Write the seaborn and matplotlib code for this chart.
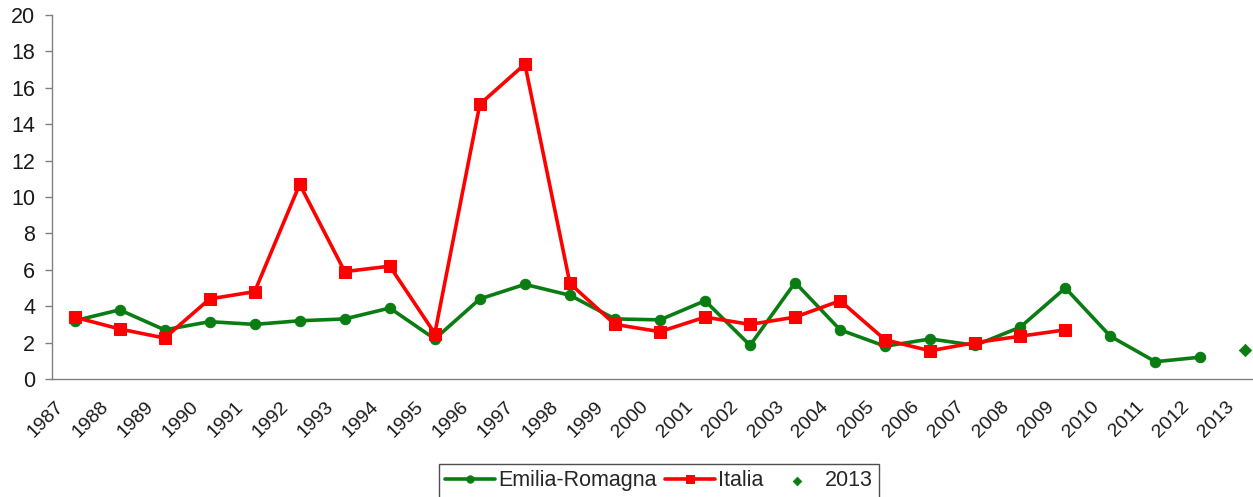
import numpy as np
import pandas as pd
import seaborn as sns
import matplotlib.pyplot as plt
import matplotlib.transforms as mtransforms
from matplotlib.ticker import FixedLocator

years = list(range(1987, 2014))

emilia_years = list(range(1987, 2013))
emilia_values = [3.2, 3.8, 2.7, 3.15, 3.0, 3.2, 3.3, 3.9, 2.2, 4.4, 5.2, 4.6, 3.3,
                 3.25, 4.3, 1.85, 5.3, 2.7, 1.8, 2.2, 1.85, 2.85, 5.0, 2.35, 0.95, 1.2]

italia_years = list(range(1987, 2010))
italia_values = [3.4, 2.75, 2.25, 4.4, 4.8, 10.7, 5.9, 6.2, 2.5, 15.1, 17.3, 5.25,
                 3.0, 2.6, 3.4, 3.0, 3.4, 4.3, 2.15, 1.55, 2.0, 2.35, 2.7]

point_2013_year = [2013]
point_2013_value = [1.6]

GREEN = "#0a7d12"
RED = "#ff0000"

sns.set_theme(style="white")
plt.rcParams["font.family"] = ["Liberation Sans", "DejaVu Sans"]

emilia = pd.DataFrame({"anno": emilia_years, "valore": emilia_values})
italia = pd.DataFrame({"anno": italia_years, "valore": italia_values})
p2013 = pd.DataFrame({"anno": point_2013_year, "valore": point_2013_value})

fig = plt.figure(figsize=(12.53, 4.97), dpi=100)
ax = fig.add_axes([52 / 1253, 1 - 379 / 497, 1216 / 1253, 364 / 497])

sns.lineplot(data=emilia, x="anno", y="valore", ax=ax, color=GREEN, linewidth=2.6,
             marker="o", markersize=7.5, markeredgecolor=GREEN, label="Emilia-Romagna")
sns.lineplot(data=italia, x="anno", y="valore", ax=ax, color=RED, linewidth=2.6,
             marker="s", markersize=8, markeredgecolor=RED, label="Italia")
sns.scatterplot(data=p2013, x="anno", y="valore", ax=ax, color=GREEN, marker="D",
                s=40, edgecolor=GREEN, label="2013", zorder=5)

ax.set_xlim(years[0] - 0.5, years[-1] + 0.5)
ax.set_ylim(0, 20)
ax.set_yticks(np.arange(0, 21, 2))
ax.set_xlabel("")
ax.set_ylabel("")

for side in ["top", "right"]:
    ax.spines[side].set_visible(False)
for side in ["left", "bottom"]:
    ax.spines[side].set_color("#808080")
    ax.spines[side].set_linewidth(1.0)

ax.set_xticks(years)
ax.set_xticklabels([str(y) for y in years], rotation=45, ha="right", va="top",
                   fontsize=14, color="#1a1a1a")
ax.xaxis.set_minor_locator(FixedLocator([y - 0.5 for y in years] + [years[-1] + 0.5]))
ax.tick_params(axis="x", which="major", length=0, pad=14)
ax.tick_params(axis="x", which="minor", length=5, color="#808080", width=1, direction="out")
ax.tick_params(axis="y", length=5, color="#808080", width=1, direction="out",
               labelsize=15.5, labelcolor="#1a1a1a", pad=7, left=True)

offset = mtransforms.ScaledTranslation(-8 / 100, 0, fig.dpi_scale_trans)
for lab in ax.get_xticklabels():
    lab.set_transform(lab.get_transform() + offset)

handles, labels = ax.get_legend_handles_labels()
ax.legend(handles, labels, loc="upper center", bbox_to_anchor=(659 / 1253, 1 - 464 / 497),
          bbox_transform=fig.transFigure, ncol=3, frameon=True, fancybox=False,
          edgecolor="#222222", fontsize=15.5, handlelength=2.3, handletextpad=0.15,
          columnspacing=0.4, borderpad=0.3, borderaxespad=0, markerscale=0.7)
ax.get_legend().get_frame().set_linewidth(1.0)

fig.savefig("out.png", dpi=100)
